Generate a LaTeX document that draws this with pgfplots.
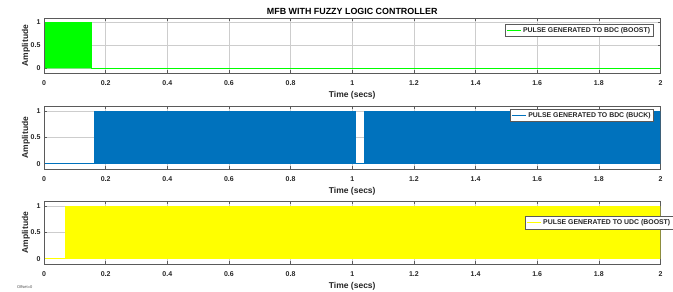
\documentclass[border=0pt]{standalone}
\usepackage{fontspec}
\setmainfont{Liberation Sans}
\usepackage{pgfplots}
\pgfplotsset{compat=1.18}
\definecolor{mgreen}{RGB}{0,255,0}
\definecolor{mblue}{RGB}{0,114,189}
\definecolor{myellow}{RGB}{255,255,0}
\definecolor{gridc}{RGB}{205,205,205}
\definecolor{axc}{RGB}{90,90,90}
\tikzset{frameit/.style={axc, line width=0.6pt}}
\pgfplotsset{
  scope/.style={
    scale only axis, width=616.5pt,
    xmin=0, xmax=2, ymin=-0.1, ymax=1.1,
    xtick={0,0.2,...,2.01}, ytick={0,0.5,1},
    xticklabels={0,0.2,0.4,0.6,0.8,1,1.2,1.4,1.6,1.8,2},
    yticklabels={0,0.5,1},
    grid=major, major grid style={gridc, line width=0.6pt},
    axis line style={axc, line width=0.6pt},
    tick style={axc, line width=0.6pt}, major tick length=3pt,
    tick align=inside,
    /pgf/number format/assume math mode=true,
    ticklabel style={font=\fontsize{7}{8}\selectfont\bfseries, text=black!85},
    xticklabel style={yshift=-4pt},
    xlabel={Time (secs)}, ylabel={Amplitude},
    label style={font=\fontsize{8.5}{9}\selectfont\bfseries, text=black!85},
    xlabel style={yshift=1pt},
    ylabel style={yshift=-6pt},
    legend cell align=left,
    legend style={font=\fontsize{6.9}{7.5}\selectfont\bfseries, draw=axc, line width=0.5pt,
      inner sep=0.8pt, row sep=-1pt, fill=white, text=black!85},
    legend image code/.code={\draw[#1] (0pt,0pt) -- (14pt,0pt);},
  },
}
\begin{document}
\begin{tikzpicture}
\clip (0pt,0pt) rectangle (673pt,-292pt);
\fill[white] (0pt,0pt) rectangle (673pt,-292pt);
% Axis 1
\begin{axis}[scope, at={(44pt,-18pt)}, anchor=north west, height=55pt,
  title={MFB WITH FUZZY LOGIC CONTROLLER},
  title style={font=\fontsize{8.9}{9}\selectfont\bfseries, yshift=-6pt},
  legend style={at={(0.988,0.891)}, anchor=north east}]
\addplot[draw=mgreen, fill=mgreen, line width=1.2pt, forget plot]
  coordinates {(0,0) (0,1) (0.155,1) (0.155,0) (2,0)};
\addlegendimage{mgreen, line width=1pt}
\addlegendentry{PULSE GENERATED TO BDC (BOOST)}
\draw[frameit] (rel axis cs:0,0) rectangle (rel axis cs:1,1);
\end{axis}
% Axis 2
\begin{axis}[scope, at={(44pt,-106pt)}, anchor=north west, height=63pt,
  legend style={at={(0.989,0.952)}, anchor=north east}]
\addplot[draw=mblue, fill=mblue, line width=1.2pt, forget plot]
  coordinates {(0,0) (0.165,0) (0.165,1) (1.009,1) (1.009,0) (1.041,0) (1.041,1) (2,1) (2,0)};
\addlegendimage{mblue, line width=1pt}
\addlegendentry{PULSE GENERATED TO BDC (BUCK)}
\draw[frameit] (rel axis cs:0,0) rectangle (rel axis cs:1,1);
\end{axis}
% Axis 3
\begin{axis}[scope, at={(44pt,-201pt)}, anchor=north west, height=63pt,
  legend style={at={(0.780,0.762)}, anchor=north west, inner sep=1.1pt}]
\addplot[draw=myellow, fill=myellow, line width=1.2pt, forget plot]
  coordinates {(0,0) (0.07,0) (0.07,1) (2,1) (2,0)};
\addlegendimage{myellow, line width=1pt}
\addlegendentry{PULSE GENERATED TO UDC (BOOST)}
\draw[frameit] (rel axis cs:0,0) rectangle (rel axis cs:1,1);
\end{axis}
\node[anchor=west, font=\fontsize{4}{4}\selectfont, text=black!70, inner sep=0pt] at (17pt,-287pt) {Offset=0};
\end{tikzpicture}
\end{document}
